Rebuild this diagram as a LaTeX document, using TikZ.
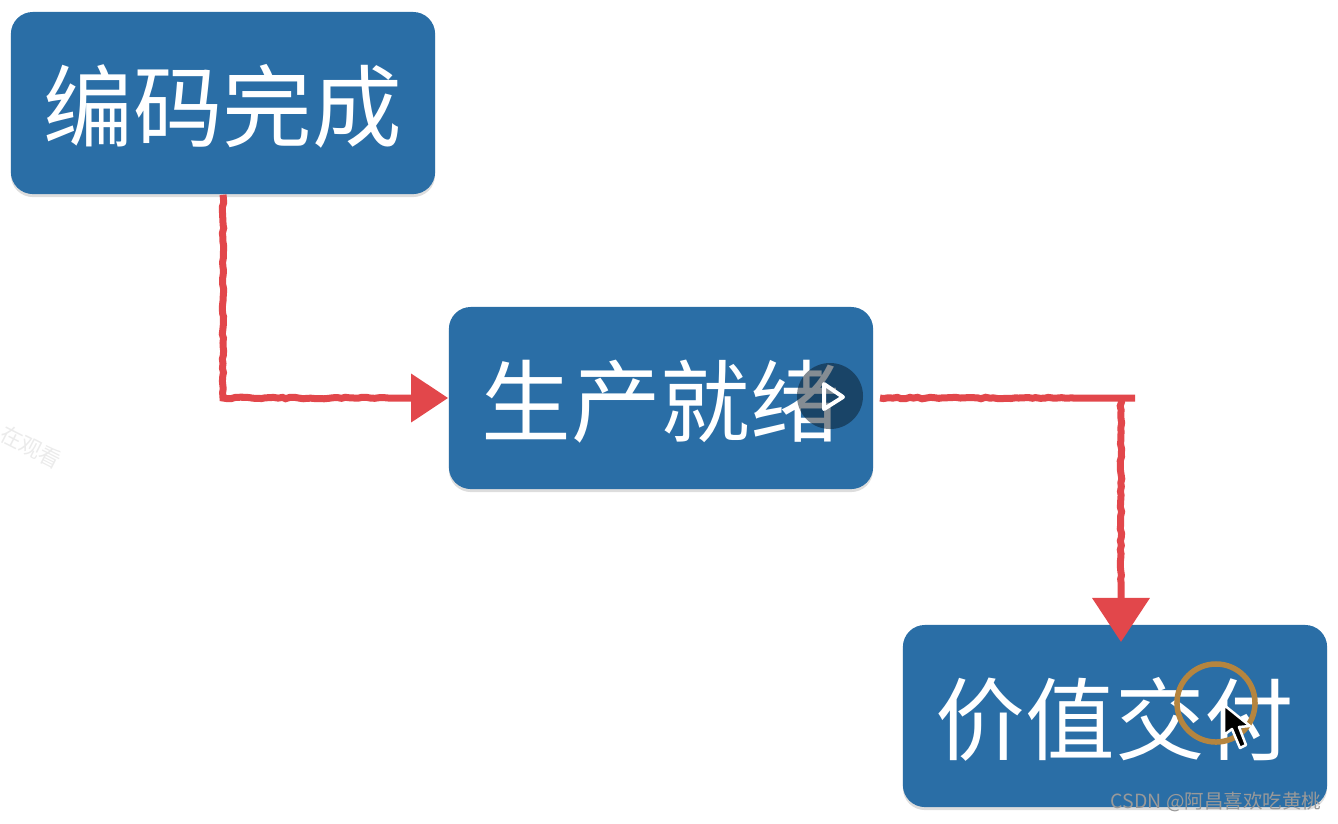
\documentclass[tikz,border=0pt]{standalone}
\usepackage{fontspec}
\newfontfamily\cjk{Noto Sans CJK SC}
\usetikzlibrary{arrows.meta,decorations.pathmorphing,shadows}
\definecolor{boxblue}{HTML}{2A6EA6}
\definecolor{penred}{HTML}{E2474B}
\definecolor{ringorange}{HTML}{B5853F}
\tikzset{
  stage/.style={rectangle,rounded corners=0.22cm,fill=boxblue,text=white,
    minimum width=4.24cm,minimum height=1.82cm,inner sep=0pt,
    text height=24.5pt,text depth=3.4pt,
    font=\cjk\fontsize{25.5}{30}\selectfont,
    drop shadow={shadow xshift=0cm,shadow yshift=-0.03cm,opacity=0.22,fill=black!60}},
  pen/.style={draw=penred,line width=0.07cm,
    decoration={random steps,segment length=1.2pt,amplitude=0.22pt,post length=6mm},decorate},
  tipa/.style={-{Triangle[length=0.37cm,width=0.47cm,fill=penred]}},
  tipb/.style={-{Triangle[length=0.44cm,width=0.56cm,fill=penred]}},
  mark text/.style={font=\cjk\fontsize{6.2}{8}\selectfont}
}
\begin{document}
\begin{tikzpicture}[x=0.01cm,y=-0.01cm]
\useasboundingbox (0,0) rectangle (1338,823);

\node[mark text,text=black!8,rotate=-27] (watching) at (31,447) {在观看};

\node[stage] (coding) at (223,103) {编码完成};
\node[stage] (ready) at (661,398) {生产就绪};
\node[stage] (value) at (1115,716) {价值交付};

\coordinate (leave) at (880,398);
\coordinate (corner) at (1135,398);
\coordinate (drop) at (1121,398);
\coordinate (entry) at (1121,642);

\draw[pen,tipa] (coding.south) |- (ready.west);
\draw[pen] (leave) -- (corner);
\draw[pen,tipb] (drop) -- (entry);

\node[circle,fill=black!75!boxblue,fill opacity=0.5,minimum size=0.66cm,inner sep=0pt] (play) at (830,396) {};
\draw[white,line width=0.04cm,line join=round] (824,384) -- (843,397) -- (824,409) -- cycle;

\node[circle,draw=ringorange,line width=0.055cm,minimum size=0.78cm,inner sep=0pt] (ring) at (1216,703) {};
\draw[white,line width=0.025cm,fill=black,line join=round] (1224,705) -- (1224,735) -- (1232,729) -- (1240,748) -- (1246,745) -- (1239,727) -- (1250,726) -- cycle;

\node[font=\cjk\fontsize{5.55}{7}\selectfont,text=black!40,anchor=east,inner sep=0pt] (credit) at (1322,802) {CSDN @阿昌喜欢吃黄桃};
\end{tikzpicture}
\end{document}
